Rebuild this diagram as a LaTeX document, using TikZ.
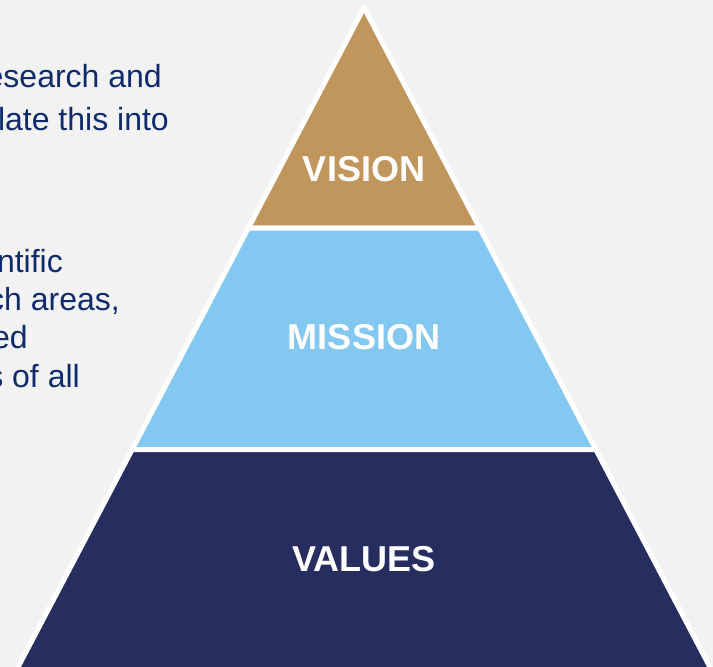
\documentclass[tikz,border=0pt]{standalone}
\usepackage{fontspec}
\setmainfont{Liberation Sans}
\usetikzlibrary{positioning}
\definecolor{pagegray}{HTML}{F2F2F2}
\definecolor{visiongold}{HTML}{C1965C}
\definecolor{missionblue}{HTML}{83C8F0}
\definecolor{valuesnavy}{HTML}{262D5F}
\definecolor{textnavy}{HTML}{0F2B6B}
\tikzstyle{band}=[draw=white,line width=5pt,line join=round]
\tikzstyle{level}=[text=white,font=\fontsize{36}{40}\selectfont\bfseries]
\tikzstyle{blurb}=[text=textnavy,font=\fontsize{32}{36}\selectfont,inner sep=0pt,anchor=base east]

\begin{document}
\begin{tikzpicture}[x=1pt,y=-1pt]
  \clip (0,0) rectangle (713,667);
  \fill[pagegray] (0,0) rectangle (713,667);

  % pyramid bands
  \coordinate (apex) at (364,7.6);
  \coordinate (vl) at (248.4,228);   \coordinate (vr) at (479.6,228);
  \coordinate (ml) at (132.2,449.5); \coordinate (mr) at (595.8,449.5);
  \coordinate (bl) at (0.8,700);     \coordinate (br) at (727.2,700);
  \path[band,fill=visiongold] (apex) -- (vr) -- (vl) -- cycle;
  \path[band,fill=missionblue] (vl) -- (vr) -- (mr) -- (ml) -- cycle;
  \path[band,fill=valuesnavy] (ml) -- (mr) -- (br) -- (bl) -- cycle;

  \node[level] (vision)  at (364,169) {VISION};
  \node[level] (mission) at (364,337) {MISSION};
  \node[level] (values)  at (364,559) {VALUES};

  % text cut off at the left edge
  \node[blurb] (vtext1) at (162,87)  {esearch and};
  \node[blurb] (vtext2) at (169,130) {late this into};
  \node[blurb] (mtext1) at (63,272)  {ntific};
  \node[blurb] (mtext2) at (120,310) {ch areas,};
  \node[blurb] (mtext3) at (28,348)  {ed};
  \node[blurb] (mtext4) at (80,387)  {s of all};
\end{tikzpicture}
\end{document}
